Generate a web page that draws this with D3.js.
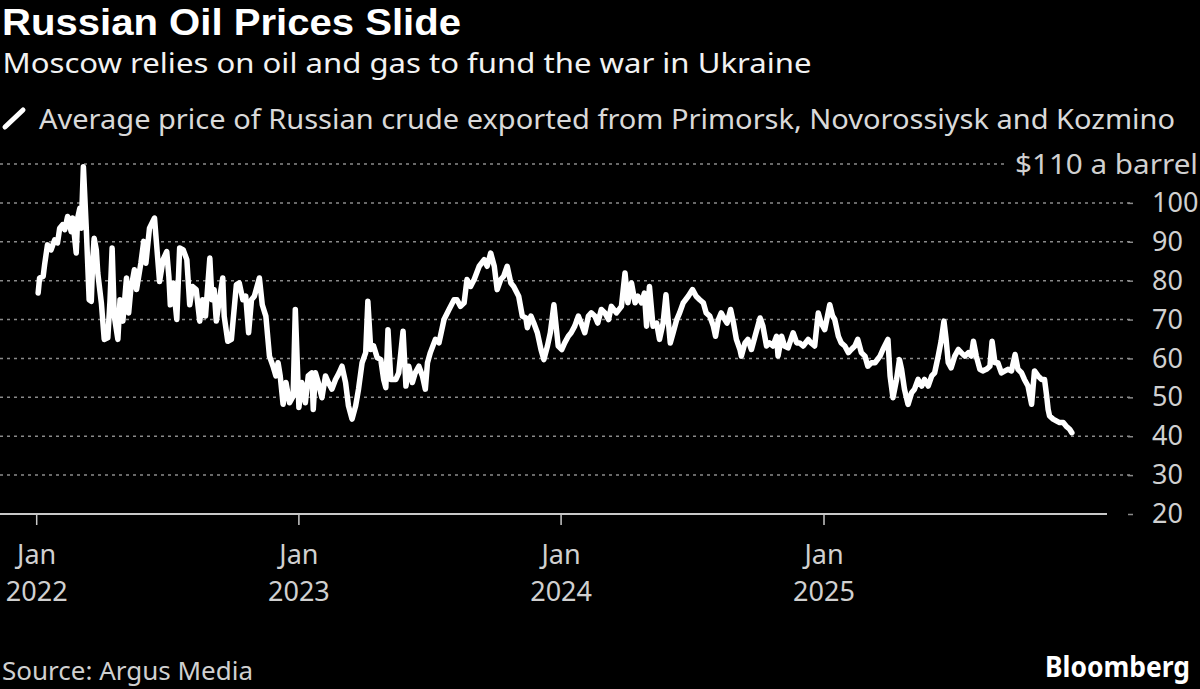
<!DOCTYPE html>
<html><head><meta charset="utf-8">
<script src="https://cdn.jsdelivr.net/npm/d3@7"></script>
<style>html,body{margin:0;padding:0;background:#000;} svg{display:block;}</style>
</head><body>
<svg id="chart" width="1200" height="689"></svg>
<script>
const title = "Russian Oil Prices Slide";
const subtitle = "Moscow relies on oil and gas to fund the war in Ukraine";
const legendLabel = "Average price of Russian crude exported from Primorsk, Novorossiysk and Kozmino";
const sourceText = "Source: Argus Media";
const brand = "Bloomberg";

const dates = [
"2022-01-03","2022-01-05","2022-01-10","2022-01-12","2022-01-16","2022-01-21","2022-01-26","2022-01-30",
"2022-02-02","2022-02-06","2022-02-09","2022-02-13","2022-02-18","2022-02-20","2022-02-25","2022-02-27",
"2022-03-02","2022-03-04","2022-03-07","2022-03-11","2022-03-15","2022-03-18","2022-03-20","2022-03-22",
"2022-03-25","2022-03-27","2022-04-01","2022-04-05","2022-04-10","2022-04-13","2022-04-16","2022-04-19",
"2022-04-24","2022-04-27","2022-05-01","2022-05-06","2022-05-09","2022-05-12","2022-05-17","2022-05-20",
"2022-05-26","2022-05-30","2022-06-02","2022-06-07","2022-06-14","2022-06-16","2022-06-21","2022-06-26",
"2022-07-01","2022-07-04","2022-07-06","2022-07-10","2022-07-15","2022-07-19","2022-07-24","2022-07-29",
"2022-08-02","2022-08-06","2022-08-11","2022-08-16","2022-08-20","2022-08-24","2022-08-30","2022-09-02",
"2022-09-05","2022-09-08","2022-09-12","2022-09-17","2022-09-19","2022-09-24","2022-09-29","2022-10-06",
"2022-10-10","2022-10-15","2022-10-19","2022-10-23","2022-10-27","2022-10-31","2022-11-07","2022-11-11",
"2022-11-16","2022-11-21","2022-11-26","2022-11-30","2022-12-03","2022-12-06","2022-12-10","2022-12-14",
"2022-12-19","2022-12-24","2022-12-27","2023-01-01",
"2023-01-05","2023-01-10","2023-01-14","2023-01-19","2023-01-21","2023-01-24","2023-01-28","2023-02-02",
"2023-02-07","2023-02-11","2023-02-16","2023-02-21","2023-02-26","2023-03-02","2023-03-07","2023-03-11",
"2023-03-16","2023-03-21","2023-03-25","2023-03-30","2023-04-04","2023-04-07","2023-04-11","2023-04-15",
"2023-04-20","2023-04-25","2023-04-29","2023-05-02","2023-05-05","2023-05-09","2023-05-16","2023-05-20",
"2023-05-26","2023-05-30","2023-06-03","2023-06-08","2023-06-12","2023-06-17","2023-06-22","2023-06-26",
"2023-06-29","2023-07-03","2023-07-10","2023-07-15","2023-07-22","2023-07-29","2023-08-05","2023-08-09",
"2023-08-14","2023-08-19","2023-08-23","2023-08-28","2023-09-02","2023-09-09","2023-09-16","2023-09-20",
"2023-09-25","2023-09-30","2023-10-04","2023-10-09","2023-10-13","2023-10-18","2023-10-23","2023-10-27",
"2023-11-03","2023-11-08","2023-11-13","2023-11-15","2023-11-20","2023-11-24","2023-11-29","2023-12-04",
"2023-12-08","2023-12-13","2023-12-17","2023-12-22","2023-12-28",
"2024-01-02","2024-01-06","2024-01-11","2024-01-15","2024-01-20","2024-01-25","2024-01-29","2024-02-03",
"2024-02-08","2024-02-12","2024-02-17","2024-02-21","2024-02-26","2024-03-02","2024-03-07","2024-03-11",
"2024-03-18","2024-03-25","2024-03-30","2024-04-03","2024-04-08","2024-04-13","2024-04-17","2024-04-22",
"2024-04-26","2024-04-29","2024-05-03","2024-05-08","2024-05-13","2024-05-17","2024-05-22","2024-05-26",
"2024-06-01","2024-06-05","2024-06-10","2024-06-14","2024-06-19","2024-06-26","2024-07-02","2024-07-07",
"2024-07-12","2024-07-17","2024-07-21","2024-07-26","2024-07-31","2024-08-03","2024-08-07","2024-08-11",
"2024-08-16","2024-08-19","2024-08-24","2024-08-28","2024-09-01","2024-09-06","2024-09-08","2024-09-13",
"2024-09-17","2024-09-22","2024-09-27","2024-10-04","2024-10-08","2024-10-13","2024-10-17","2024-10-22",
"2024-10-27","2024-10-29","2024-11-03","2024-11-07","2024-11-12","2024-11-19","2024-11-24","2024-11-28",
"2024-12-03","2024-12-10","2024-12-14","2024-12-19","2024-12-24","2024-12-28",
"2025-01-02","2025-01-09","2025-01-13","2025-01-16","2025-01-21","2025-01-25","2025-01-30","2025-02-04",
"2025-02-08","2025-02-13","2025-02-17","2025-02-22","2025-02-27","2025-03-03","2025-03-08","2025-03-13",
"2025-03-20","2025-03-24","2025-03-31","2025-04-03","2025-04-07","2025-04-12","2025-04-16","2025-04-19",
"2025-04-23","2025-04-28","2025-05-03","2025-05-07","2025-05-12","2025-05-17","2025-05-21","2025-05-26",
"2025-05-31","2025-06-04","2025-06-09","2025-06-13","2025-06-17","2025-06-20","2025-06-23","2025-06-27",
"2025-07-02","2025-07-07","2025-07-11","2025-07-16","2025-07-21","2025-07-25","2025-07-28","2025-08-01",
"2025-08-06","2025-08-10","2025-08-15","2025-08-20","2025-08-23","2025-08-27","2025-08-31","2025-09-05",
"2025-09-10","2025-09-14","2025-09-19","2025-09-24","2025-09-28","2025-10-03","2025-10-07","2025-10-12",
"2025-10-17","2025-10-21","2025-10-26","2025-10-31","2025-11-04","2025-11-07","2025-11-09","2025-11-11",
"2025-11-16","2025-11-21","2025-11-25","2025-11-30","2025-12-04","2025-12-09","2025-12-12"
];

const prices = [
76.8,80.7,81.1,84.1,89.2,87.9,90.5,89.7,
93.5,94.4,93.1,96.5,92.6,96.1,87.1,96.1,
98.6,93.5,109.3,93.5,75.1,74.7,85.4,90.9,
87.9,82.0,74.3,64.9,65.3,74.7,88.4,70.9,
64.9,75.1,69.6,80.7,71.7,77.7,82.8,77.7,
84.5,90.1,84.5,93.5,96.1,91.4,79.8,85.4,
87.5,81.1,73.8,79.4,70.0,88.4,87.9,85.4,
73.8,78.5,77.7,69.6,75.1,70.9,85.8,75.1,
77.7,69.6,74.7,80.7,70.9,64.4,64.9,79.0,
79.4,75.1,76.0,66.6,75.1,76.0,80.7,73.8,
70.9,60.6,58.0,55.5,58.9,55.5,48.2,53.8,
48.6,50.3,72.6,47.4,
53.8,48.6,55.5,56.3,46.9,56.3,53.8,49.9,
55.5,53.8,52.1,54.6,56.3,58.0,53.8,47.8,
44.4,47.8,52.1,58.9,61.5,74.7,62.3,63.2,
60.2,59.7,54.6,52.5,67.4,54.6,54.6,56.3,
67.0,52.9,58.0,53.8,56.3,58.0,55.5,52.1,
58.9,61.5,64.9,64.0,70.0,72.6,75.1,75.1,
73.4,74.3,80.3,78.5,80.3,83.7,85.4,83.7,
87.1,83.7,77.7,80.3,81.1,83.7,79.4,78.5,
76.0,70.9,70.4,67.9,70.9,69.1,66.6,62.3,
59.7,63.2,66.6,73.8,63.2,
62.3,64.0,65.7,66.6,68.3,70.9,69.1,66.6,
70.9,71.7,70.9,69.1,72.6,71.7,70.0,73.4,
71.7,73.4,82.0,74.3,79.4,74.3,76.0,74.3,
76.8,68.3,78.5,68.3,69.1,64.9,69.1,76.4,
64.0,66.6,70.0,71.7,74.3,76.0,77.7,76.0,
75.1,74.3,71.7,70.9,68.3,65.7,70.0,71.7,
70.0,69.1,72.6,69.1,64.9,62.3,60.6,64.0,
64.9,62.3,65.7,70.4,68.3,63.2,64.0,63.2,
65.7,60.6,65.7,63.2,62.7,66.6,64.0,64.0,
63.2,64.9,64.0,63.2,71.7,69.1,
67.4,73.8,70.9,70.0,65.7,64.0,63.2,61.5,
62.3,63.2,64.9,61.5,60.6,58.0,58.9,58.9,
60.6,62.3,64.9,55.5,49.9,54.6,59.7,57.2,
52.1,48.2,51.2,52.1,54.6,52.9,54.6,52.9,
55.5,56.3,60.6,64.4,69.6,64.9,58.9,57.6,
60.6,62.3,61.5,60.6,61.5,60.6,64.4,60.6,
57.2,56.8,57.2,58.0,64.4,58.9,58.9,56.3,
56.8,57.2,56.8,61.0,57.2,56.3,54.6,52.9,
48.2,56.8,55.5,54.6,54.6,50.3,46.9,45.2,
44.4,43.9,43.5,43.5,42.6,41.8,40.9
];

const xTickDates = ["2022-01-01","2023-01-01","2024-01-01","2025-01-01"];
const xTickMonths = ["Jan","Jan","Jan","Jan"];
const xTickYears = ["2022","2023","2024","2025"];
const yTicks = [20,30,40,50,60,70,80,90,100];
const yTopValue = 110;
const yTopLabel = "$110 a barrel";

const parse = d3.utcParse("%Y-%m-%d");
const data = dates.map((d,i)=>({date: parse(d), value: prices[i]}));

const svg = d3.select("#chart");
const FONT = "'Noto Sans', sans-serif";
svg.append("rect").attr("width",1200).attr("height",689).attr("fill","#000");

const x = d3.scaleUtc().domain([parse("2022-01-01"), parse("2025-01-01")]).range([36.7, 824]);
const y = d3.scaleLinear().domain([20, 110]).range([514, 164]);

// Header
svg.append("text").attr("x",2).attr("y",34.5).attr("fill","#fff")
  .attr("font-family","'Liberation Sans', Arial, sans-serif").attr("font-weight",700).attr("font-size",36)
  .attr("textLength",459).attr("lengthAdjust","spacingAndGlyphs").text(title);
svg.append("text").attr("x",2.5).attr("y",72.5).attr("fill","#f2f2f2")
  .attr("font-family",FONT).attr("font-size",28)
  .attr("textLength",809).attr("lengthAdjust","spacingAndGlyphs").text(subtitle);

// Legend
svg.append("line").attr("x1",5).attr("y1",127).attr("x2",23).attr("y2",110)
  .attr("stroke","#fff").attr("stroke-width",5).attr("stroke-linecap","round");
svg.append("text").attr("x",39).attr("y",128.5).attr("fill","#d9d9d9")
  .attr("font-family",FONT).attr("font-size",28)
  .attr("textLength",1136).attr("lengthAdjust","spacingAndGlyphs").text(legendLabel);

// Gridlines
const grid = svg.append("g");
grid.selectAll("line.g").data(yTicks.filter(v=>v>20)).join("line")
  .attr("x1",0).attr("x2",1133).attr("y1",d=>y(d)).attr("y2",d=>y(d))
  .attr("stroke","#8a8a8a").attr("stroke-width",1.5).attr("stroke-dasharray","3,4");
grid.append("line").attr("x1",0).attr("x2",1004).attr("y1",y(yTopValue)).attr("y2",y(yTopValue))
  .attr("stroke","#8a8a8a").attr("stroke-width",1.5).attr("stroke-dasharray","3,4");

// Y axis (right)
const yAxis = d3.axisRight(y).tickValues(yTicks).tickSize(5).tickPadding(19).tickFormat(d3.format("d"));
const gy = svg.append("g").attr("transform","translate(1128,0)").call(yAxis);
gy.select(".domain").remove();
gy.selectAll(".tick line").attr("stroke","#8a8a8a").attr("stroke-width",1.5);
gy.selectAll(".tick text").attr("fill","#d0d0d0").attr("font-family",FONT).attr("font-size",27);
svg.append("text").attr("x",1198).attr("y",y(yTopValue)+9.5).attr("text-anchor","end")
  .attr("fill","#d0d0d0").attr("font-family",FONT).attr("font-size",27)
  .attr("textLength",183).attr("lengthAdjust","spacingAndGlyphs").text(yTopLabel);

// X axis
svg.append("line").attr("x1",0).attr("x2",1107).attr("y1",y(20)).attr("y2",y(20))
  .attr("stroke","#c8c8c8").attr("stroke-width",2);
const xt = svg.append("g").selectAll("g").data(xTickDates).join("g")
  .attr("transform",d=>`translate(${x(parse(d))},${y(20)})`);
xt.append("line").attr("y1",0).attr("y2",11).attr("stroke","#c8c8c8").attr("stroke-width",1.5);
xt.append("text").attr("y",50).attr("text-anchor","middle").attr("fill","#d0d0d0")
  .attr("font-family",FONT).attr("font-size",27).text((d,i)=>xTickMonths[i]);
xt.append("text").attr("y",87).attr("text-anchor","middle").attr("fill","#d0d0d0")
  .attr("font-family",FONT).attr("font-size",27).text((d,i)=>xTickYears[i]);

// Line
const line = d3.line().x(d=>x(d.date)).y(d=>y(d.value));
svg.append("path").datum(data).attr("d",line).attr("fill","none")
  .attr("stroke","#fff").attr("stroke-width",5.5).attr("stroke-linejoin","round").attr("stroke-linecap","round");

// Footer
svg.append("text").attr("x",2).attr("y",680).attr("fill","#d0d0d0")
  .attr("font-family",FONT).attr("font-size",26)
  .attr("textLength",251).attr("lengthAdjust","spacingAndGlyphs").text(sourceText);
svg.append("text").attr("x",1190).attr("y",677).attr("text-anchor","end").attr("fill","#fff")
  .attr("font-family",FONT).attr("font-weight",700).attr("font-size",28)
  .attr("textLength",145).attr("lengthAdjust","spacingAndGlyphs").text(brand);
</script>
</body></html>
